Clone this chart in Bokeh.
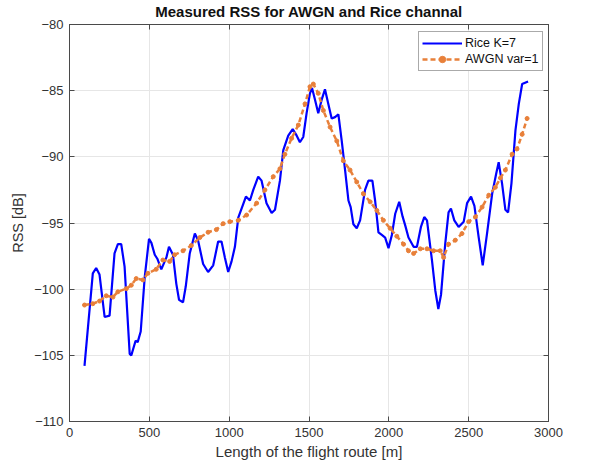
from bokeh.plotting import figure
from bokeh.models import Range1d, LinearAxis, FixedTicker, Legend, LegendItem, CustomLabelingPolicy
from bokeh.embed import file_html
from bokeh.resources import INLINE

rice_x = [94, 146, 167, 188, 220, 251, 282, 303, 324, 345, 377, 387, 414, 427, 446, 471, 498, 513, 534, 550,
          575, 607, 623, 648, 669, 686, 711, 728, 753, 785, 805, 837, 868, 900, 931, 952, 973, 994, 1015, 1036,
          1057, 1084, 1105, 1130, 1151, 1182, 1203, 1234, 1266, 1287, 1318, 1339, 1370, 1398, 1423, 1443, 1464,
          1485, 1506, 1519, 1538, 1558, 1579, 1600, 1621, 1642, 1663, 1684, 1705, 1726, 1747, 1761, 1778, 1799,
          1820, 1851, 1872, 1897, 1914, 1935, 1956, 1977, 1998, 2019, 2040, 2065, 2086, 2103, 2123, 2155, 2176,
          2201, 2222, 2239, 2270, 2291, 2310, 2327, 2353, 2374, 2389, 2410, 2437, 2469, 2490, 2515, 2536, 2563,
          2588, 2615, 2647, 2672, 2688, 2709, 2730, 2747, 2768, 2793, 2814, 2835, 2872]
rice_y = [-105.8, -98.8, -98.4, -98.9, -102.1, -102.0, -97.3, -96.6, -96.6, -98.3, -104.9, -105.0, -103.9, -104.0,
          -103.2, -99.1, -96.2, -96.5, -97.4, -97.7, -98.5, -97.6, -96.8, -97.4, -99.6, -100.8, -101.0, -99.8,
          -97.3, -95.8, -96.3, -98.1, -98.7, -98.2, -96.4, -96.4, -97.6, -98.7, -97.9, -96.8, -94.6, -93.7, -93.0,
          -93.3, -92.5, -91.5, -91.8, -93.5, -94.25, -94.0, -91.8, -89.5, -88.4, -87.9, -88.4, -88.9, -88.5, -86.7,
          -85.2, -84.8, -85.7, -86.7, -85.7, -84.9, -86.0, -87.1, -87.0, -86.8, -88.8, -91.0, -93.3, -93.8, -95.1,
          -95.4, -94.8, -92.5, -91.8, -91.8, -93.3, -95.7, -95.9, -96.1, -96.9, -95.9, -94.3, -93.4, -94.5, -95.2,
          -96.1, -96.8, -96.8, -95.3, -94.55, -94.8, -97.8, -100.1, -101.5, -100.4, -96.6, -94.2, -93.9, -94.8,
          -95.3, -94.9, -93.5, -93.0, -93.7, -96.1, -98.2, -95.8, -92.8, -91.3, -90.4, -92.0, -94.0, -94.2, -92.0,
          -88.0, -86.0, -84.5, -84.3]

awgn_x = [94, 146, 188, 230, 272, 303, 356, 387, 418, 460, 491, 543, 585, 627, 658, 711, 763, 816, 868, 920, 962,
          1004, 1057, 1109, 1172, 1224, 1276, 1318, 1349, 1391, 1433, 1475, 1506, 1527, 1558, 1590, 1632, 1674,
          1715, 1757, 1799, 1841, 1883, 1925, 1966, 2008, 2050, 2092, 2123, 2155, 2197, 2239, 2280, 2322, 2343,
          2374, 2416, 2458, 2500, 2542, 2584, 2626, 2667, 2699, 2730, 2772, 2803, 2835, 2866]
awgn_y = [-101.2, -101.1, -100.9, -100.5, -100.6, -100.2, -99.96, -99.7, -99.2, -99.3, -98.8, -98.5, -97.8, -97.9,
          -97.4, -97.1, -96.7, -96.1, -95.7, -95.5, -95.05, -94.9, -94.8, -94.4, -93.5, -92.5, -91.5, -90.9, -89.8,
          -88.6, -87.6, -86.0, -84.7, -84.5, -85.2, -86.5, -87.75, -88.8, -90.3, -91.0, -91.9, -92.8, -93.4, -94.05,
          -94.8, -95.4, -96.0, -96.6, -97.1, -97.3, -96.95, -96.95, -97.1, -97.1, -97.6, -96.6, -96.3, -95.8, -94.9,
          -94.55, -93.8, -92.9, -92.3, -91.6, -91.0, -89.8, -89.4, -88.3, -87.1]

x_ticks = [0, 500, 1000, 1500, 2000, 2500, 3000]
y_ticks = [-110, -105, -100, -95, -90, -85, -80]

FONT = "Liberation Sans"
TXT = "#333333"

p = figure(width=593, height=468, output_backend="svg", toolbar_location=None,
           x_range=Range1d(0, 3000), y_range=Range1d(-110, -80),
           min_border_left=69, min_border_right=45, min_border_top=0, min_border_bottom=47,
           title="Measured RSS for AWGN and Rice channal")
p.title.align = "center"
p.title.text_font = FONT
p.title.text_font_size = "15px"
p.title.text_font_style = "bold"
p.title.text_color = "#111111"
p.title.offset = 0
p.title.standoff = 1

p.outline_line_color = "#4a4a4a"
p.outline_line_width = 1
p.background_fill_color = "white"
p.border_fill_color = "white"

for ax in (p.xaxis[0], p.yaxis[0]):
    ax.major_tick_in = 5
    ax.major_tick_out = 0
    ax.minor_tick_in = 0
    ax.minor_tick_out = 0
    ax.axis_line_color = "#4a4a4a"
    ax.major_tick_line_color = "#4a4a4a"
    ax.major_label_text_font = FONT
    ax.major_label_text_font_size = "13px"
    ax.major_label_text_color = TXT
    ax.axis_label_text_font = FONT
    ax.axis_label_text_font_size = "15px"
    ax.axis_label_text_font_style = "normal"
    ax.axis_label_text_color = TXT
p.xaxis[0].ticker = FixedTicker(ticks=x_ticks)
p.yaxis[0].ticker = FixedTicker(ticks=y_ticks)
p.xaxis[0].axis_label = "Length of the flight route [m]"
p.yaxis[0].axis_label = "RSS [dB]"
p.yaxis[0].axis_label_text_font_size = "14.5px"
p.xaxis[0].major_label_standoff = 6
p.yaxis[0].major_label_standoff = 6
p.xaxis[0].axis_label_standoff = 3
p.yaxis[0].axis_label_standoff = 5

top_ax = LinearAxis(ticker=FixedTicker(ticks=x_ticks),
                    major_label_policy=CustomLabelingPolicy(code="for (const i of indices) indices.unset(i)\nreturn indices"),
                    major_label_standoff=0, major_label_text_font_size="1px",
                    major_tick_in=5, major_tick_out=0, minor_tick_in=0, minor_tick_out=0,
                    axis_line_color="#4a4a4a", major_tick_line_color="#4a4a4a")
right_ax = LinearAxis(ticker=FixedTicker(ticks=y_ticks),
                      major_label_policy=CustomLabelingPolicy(code="for (const i of indices) indices.unset(i)\nreturn indices"),
                      major_label_standoff=0, major_label_text_font_size="1px",
                      major_tick_in=5, major_tick_out=0, minor_tick_in=0, minor_tick_out=0,
                      axis_line_color="#4a4a4a", major_tick_line_color="#4a4a4a")
p.add_layout(top_ax, "above")
p.add_layout(right_ax, "right")

p.xgrid.ticker = FixedTicker(ticks=x_ticks)
p.ygrid.ticker = FixedTicker(ticks=y_ticks)
p.grid.grid_line_color = "#e6e6e6"
p.grid.grid_line_width = 1

r1 = p.line(rice_x, rice_y, line_color="#0000ff", line_width=2.2)
r2 = p.line(awgn_x, awgn_y, line_color="#e8803a", line_width=2.5, line_dash="5 3")
r3 = p.scatter(awgn_x, awgn_y, size=4, color="#e8803a")

legend = Legend(items=[LegendItem(label="Rice K=7", renderers=[r1]),
                       LegendItem(label="AWGN var=1", renderers=[r2, r3])],
                location=(349, 350))
legend.label_text_font = FONT
legend.label_text_font_size = "12.5px"
legend.label_text_color = "#111111"
legend.border_line_color = "#555555"
legend.border_line_width = 1
legend.padding = 3
legend.spacing = 0
legend.margin = 0
legend.glyph_width = 40
legend.glyph_height = 16
legend.label_height = 16
legend.label_standoff = 3
p.add_layout(legend, "center")

open("out.html", "w").write(file_html(p, INLINE))
